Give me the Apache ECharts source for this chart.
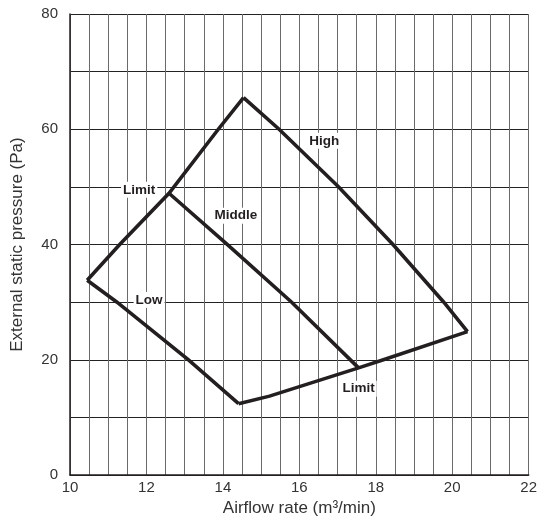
<!DOCTYPE html>
<html>
<head>
<meta charset="utf-8">
<script src="https://cdn.jsdelivr.net/npm/echarts@6/dist/echarts.min.js"></script>
<style>html,body{margin:0;padding:0;background:#fff;}#chart{width:540px;height:522px;}</style>
</head>
<body>
<div id="chart"></div>
<script>
// Tick labels
const xTickLabels = [10, 12, 14, 16, 18, 20, 22];
const yTickLabels = [0, 20, 40, 60, 80];

// Curves (airflow m3/min, pressure Pa)
const limitLeftX = [10.45, 11.3, 12.59, 13.88, 14.54];
const limitLeftY = [33.8, 40, 48.9, 60, 65.5];
const highX = [14.54, 15.47, 17.03, 18.45, 19.78, 20.4];
const highY = [65.5, 60, 50, 40, 30, 24.9];
const middleX = [12.59, 14.12, 15.8, 17.55];
const middleY = [48.9, 40, 30, 18.6];
const lowX = [10.45, 11.23, 13.1, 14.41];
const lowY = [33.8, 30, 20, 12.4];
const limitBottomX = [14.41, 15.22, 17.55, 18.2, 20.4];
const limitBottomY = [12.4, 13.7, 18.6, 20, 24.9];

// Curve labels
const labelText = ['Limit', 'High', 'Middle', 'Low', 'Limit'];
const labelX = [11.81, 16.65, 14.34, 12.07, 17.55];
const labelY = [49.5, 58.0, 45.0, 30.4, 15.0];

const FONT = 'Arial, "Liberation Sans", Helvetica, sans-serif';
const INK = '#231f20';

function zip(xs, ys) { return xs.map((x, i) => [x, ys[i]]); }
function curve(name, xs, ys) {
  return {
    name: name, type: 'line', data: zip(xs, ys), showSymbol: false, symbol: 'none',
    smooth: false, animation: false, silent: true, z: 5,
    lineStyle: { color: INK, width: 3.6, join: 'miter', cap: 'butt', opacity: 1 }
  };
}

const chart = echarts.init(document.getElementById('chart'), null, { renderer: 'canvas' });
chart.setOption({
  animation: false,
  backgroundColor: '#fff',
  grid: { left: 70, top: 14, width: 460, height: 461.5, show: false },
  xAxis: {
    type: 'value', min: 10, max: 22, interval: 0.5,
    name: 'Airflow rate (m³/min)', nameLocation: 'middle', nameGap: 24,
    nameTextStyle: { fontFamily: FONT, fontSize: 17, color: '#333' },
    axisLine: { show: true, lineStyle: { color: INK, width: 1.5 } },
    axisTick: { show: false },
    axisLabel: { customValues: xTickLabels, fontFamily: FONT, fontSize: 15, color: '#333', margin: 5 },
    splitLine: { show: true, lineStyle: { color: '#6a6a6a', width: 1 } }
  },
  yAxis: {
    type: 'value', min: 0, max: 80, interval: 10,
    name: 'External static pressure (Pa)', nameLocation: 'middle', nameGap: 44,
    nameTextStyle: { fontFamily: FONT, fontSize: 17, color: '#333' },
    axisLine: { show: true, lineStyle: { color: INK, width: 1.5 } },
    axisTick: { show: false },
    axisLabel: { customValues: yTickLabels, fontFamily: FONT, fontSize: 15, color: '#333', margin: 12 },
    splitLine: { show: true, lineStyle: { color: '#222', width: 1 } }
  },
  series: [
    curve('LimitLeft', limitLeftX, limitLeftY),
    curve('High', highX, highY),
    curve('Middle', middleX, middleY),
    curve('Low', lowX, lowY),
    curve('LimitBottom', limitBottomX, limitBottomY),
    {
      type: 'scatter', symbolSize: 0, silent: true, z: 10, animation: false,
      itemStyle: { opacity: 1, color: '#fff' },
      data: labelX.map((x, i) => ({ value: [x, labelY[i]], name: labelText[i] })),
      label: {
        show: true, position: 'inside', formatter: p => p.name,
        fontFamily: FONT, fontSize: 13.5, fontWeight: 'bold', color: INK, opacity: 1,
        textBorderWidth: 0, textShadowBlur: 0,
        backgroundColor: '#fff', padding: [1, 2]
      }
    }
  ]
});
</script>
</body>
</html>
